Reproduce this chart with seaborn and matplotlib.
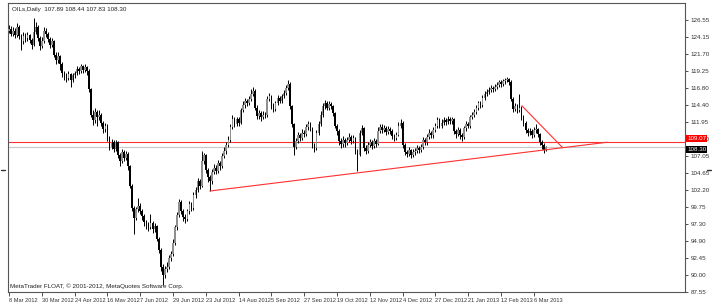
import numpy as np
import pandas as pd
import matplotlib
matplotlib.use("Agg")
import matplotlib.pyplot as plt
import matplotlib.transforms as mtransforms
import seaborn as sns

# ---------------- data ----------------
closes = [125.3,124.6,125.0,124.4,125.6,124.2,123.5,124.3,123.9,124.4,
          123.7,123.0,124.8,125.6,124.0,122.8,123.6,125.0,124.6,123.8,
          123.0,123.5,121.6,120.8,121.4,120.2,119.0,118.6,118.2,118.8,
          118.0,118.6,118.9,119.5,119.2,119.9,119.4,119.8,119.3,116.6,
          113.0,112.2,113.4,112.6,113.0,111.8,110.9,111.4,109.6,108.4,
          109.0,108.1,109.0,107.2,106.4,107.6,106.8,107.4,105.6,102.8,
          99.6,98.2,99.4,99.9,99.2,98.4,97.6,97.2,96.9,97.5,
          96.6,97.0,95.2,93.6,91.2,90.0,90.8,91.2,92.4,93.0,
          94.6,96.8,98.6,100.4,99.2,98.3,98.0,99.1,100.2,99.6,
          101.4,102.2,103.4,102.8,106.4,107.2,105.0,104.0,103.4,104.8,
          105.4,104.9,106.0,105.6,107.0,107.8,108.6,109.4,111.2,112.4,
          111.6,112.3,111.8,113.6,114.4,114.9,114.6,115.2,116.0,116.4,
          114.0,112.8,113.2,112.6,113.0,112.9,115.2,115.6,114.2,113.8,
          114.6,115.4,115.0,115.6,116.1,116.8,117.4,114.2,111.6,108.4,
          109.2,110.0,109.6,110.4,110.2,111.2,111.6,111.0,108.6,108.2,
          110.4,111.6,113.0,114.2,114.6,114.0,114.5,114.2,113.2,111.4,
          110.6,109.2,108.8,109.4,108.9,109.3,109.8,109.2,109.6,107.8,
          107.2,110.4,111.0,108.2,107.8,108.6,109.0,108.5,109.2,108.8,
          110.6,111.2,110.8,111.0,110.5,110.9,110.6,109.9,109.6,110.1,
          111.4,111.8,108.6,107.6,107.4,107.9,107.2,107.6,107.8,108.2,
          107.9,108.4,109.4,109.0,109.8,110.4,110.0,110.8,111.4,112.2,
          111.4,111.8,112.2,111.9,112.4,112.0,112.3,110.6,110.2,110.8,
          110.0,109.8,111.0,111.6,111.4,112.6,113.0,113.4,114.0,114.6,
          114.4,115.4,115.9,116.2,116.5,116.8,116.6,117.0,117.3,117.6,
          117.4,117.8,117.9,118.1,117.7,115.2,113.8,114.2,113.6,114.0,
          112.6,111.8,110.8,110.3,110.6,110.1,110.8,110.9,110.2,109.0,
          108.6,107.89,108.30]
highs = [125.9,125.7,125.5,125.4,126.1,125.9,124.6,124.8,124.7,124.9,
         124.6,123.9,126.8,126.2,125.8,124.3,124.1,125.6,125.4,124.9,
         124.1,124.0,123.7,121.9,121.9,121.6,120.5,119.3,118.9,119.2,
         119.0,118.9,119.3,119.9,119.8,120.2,120.1,120.2,120.0,119.5,
         116.8,113.6,113.9,113.7,113.6,113.2,112.1,111.8,111.6,109.9,
         109.5,109.3,109.4,109.2,107.5,108.0,107.9,107.8,107.6,105.8,
         103.0,99.9,99.8,101.1,100.3,99.5,98.7,97.9,97.6,98.8,
         97.7,97.4,97.2,95.5,93.8,91.5,91.3,91.8,92.8,93.5,
         95.1,97.2,99.0,100.9,100.7,99.5,98.7,99.5,100.6,100.5,
         101.9,102.6,103.9,103.7,107.8,107.5,107.4,105.3,104.3,105.2,
         105.9,105.7,106.5,106.4,107.5,108.3,109.1,109.9,111.6,112.9,
         112.7,112.7,112.6,114.0,114.9,115.3,115.2,115.6,116.6,116.9,
         116.6,114.3,113.7,113.5,113.5,113.4,115.6,116.1,115.8,114.6,
         115.0,115.8,115.7,116.0,116.5,117.3,117.9,117.6,114.4,111.8,
         109.7,110.5,110.4,110.9,110.8,111.7,112.1,111.9,111.2,108.9,
         110.8,112.0,113.5,114.7,115.1,114.9,114.9,114.8,114.4,113.4,
         111.7,110.9,109.6,109.9,109.7,109.8,110.3,110.1,110.0,109.8,
         108.1,110.8,111.5,111.2,108.6,109.0,109.5,109.3,109.6,109.5,
         111.2,111.7,111.6,111.5,111.3,111.3,111.2,110.9,110.2,110.5,
         111.9,112.4,112.0,108.9,107.9,108.3,108.1,108.0,108.2,108.6,
         108.5,108.8,109.8,109.7,110.2,110.9,110.7,111.2,111.8,112.6,
         112.5,112.3,112.6,112.5,112.8,112.7,112.7,112.5,110.9,111.2,
         111.0,110.3,111.4,112.0,111.9,113.0,113.4,113.8,114.4,115.0,
         114.9,115.8,116.3,116.6,116.9,117.2,117.1,117.4,117.7,118.0,
         117.9,118.1,118.2,118.4,118.3,117.9,115.5,114.6,114.5,115.9,
         114.2,112.9,112.1,111.1,111.0,110.9,111.2,111.6,111.1,110.4,
         109.3,108.9,108.44]
lows = [124.7,124.2,124.3,123.9,124.1,123.8,122.3,123.1,123.4,123.6,
        123.3,122.4,122.8,124.5,123.6,122.2,122.5,123.3,124.1,123.4,
        122.6,122.7,121.2,120.2,120.4,119.4,118.4,118.0,117.6,117.9,
        117.0,117.7,118.3,118.6,118.8,118.9,119.0,119.1,118.6,116.2,
        112.6,111.5,111.8,111.3,112.2,111.3,110.4,110.5,109.2,107.9,
        108.0,107.6,107.8,106.8,105.6,106.1,106.3,106.5,105.1,102.4,
        99.2,95.8,97.9,99.0,98.8,97.9,97.0,96.6,96.3,96.6,
        96.0,96.1,94.8,93.1,90.6,88.6,89.6,90.4,90.9,92.0,
        92.7,94.3,96.5,98.3,98.8,97.8,97.5,97.7,98.8,99.2,
        99.3,101.0,101.9,102.3,102.6,105.9,104.6,103.3,102.1,103.1,
        104.5,104.4,104.6,105.1,105.3,106.7,107.4,108.3,109.1,110.9,
        111.2,111.3,111.4,111.6,113.3,114.0,114.2,114.3,114.9,115.6,
        113.6,112.3,112.4,112.1,112.3,112.5,112.7,114.9,113.8,113.3,
        113.5,114.3,114.6,114.7,115.3,115.8,116.5,113.8,111.2,107.2,
        108.0,108.9,109.2,109.3,109.8,109.9,110.8,110.6,108.2,107.6,
        107.9,110.1,111.3,112.7,113.8,113.6,113.7,113.8,112.8,111.0,
        110.1,108.7,108.2,108.4,108.4,108.6,109.0,108.8,108.9,107.3,
        104.9,107.0,110.0,107.8,107.3,107.5,108.3,108.1,108.2,108.4,
        108.6,110.3,110.4,110.5,110.1,110.2,110.2,109.5,109.2,109.3,
        109.9,111.1,108.2,107.2,106.9,107.0,106.8,106.9,107.2,107.5,
        107.5,107.6,108.1,108.6,108.7,109.5,109.6,109.7,110.5,111.1,
        111.0,111.1,111.5,111.5,111.6,111.6,111.7,110.2,109.6,109.9,
        109.5,109.2,109.5,110.7,111.0,111.1,112.3,112.7,113.1,113.7,
        114.0,114.1,115.1,115.6,115.9,116.2,116.2,116.3,116.7,117.0,
        117.0,117.1,117.4,117.6,117.3,114.9,113.4,113.5,113.2,113.3,
        112.2,111.4,110.4,109.9,110.0,109.7,109.8,110.4,109.8,108.6,
        108.1,107.5,107.83]
first_open = 125.0

date_labels = ["8 Mar 2012", "30 Mar 2012", "24 Apr 2012", "16 May 2012",
               "7 Jun 2012", "29 Jun 2012", "23 Jul 2012", "14 Aug 2012",
               "5 Sep 2012", "27 Sep 2012", "19 Oct 2012", "12 Nov 2012",
               "4 Dec 2012", "27 Dec 2012", "21 Jan 2013", "12 Feb 2013",
               "6 Mar 2013"]
price_ticks = [126.55, 124.15, 121.70, 119.25, 116.80, 114.40, 111.95, 109.50,
               107.05, 104.65, 102.20, 99.75, 97.30, 94.90, 92.45, 90.00, 87.55]

level_line = 109.07       # horizontal red line
bid_price = 108.30        # current price line
trend_up_x = [98.0, 291.7]
trend_up_y = [102.03, 109.02]
trend_down_x = [250.2, 270.1]
trend_down_y = [114.26, 108.24]
title_text = "OILs,Daily  107.89 108.44 107.83 108.30"
footer_text = "MetaTrader FLOAT, \u00a9 2001-2012, MetaQuotes Software Corp."

# ---------------- frame ----------------
n = len(closes)
idx = np.arange(n)
opens = [first_open] + closes[:-1]
df = pd.DataFrame({"i": idx, "open": opens, "high": highs, "low": lows, "close": closes})
df["high"] = df[["high", "open", "close"]].max(axis=1)
df["low"] = df[["low", "open", "close"]].min(axis=1)
df["bull"] = df["close"] >= df["open"]

sns.set_theme(style="white")
plt.rcParams["font.family"] = ["Liberation Sans", "DejaVu Sans"]

FS = 4.5
W, H = 712, 302
fig = plt.figure(figsize=(W / 100, H / 100), dpi=100)
ax = fig.add_axes([8 / W, 10 / H, 677 / W, 289 / H])

# horizontal lines
ax.axhline(bid_price, color="#c8c8c8", lw=0.8, zorder=1)
ax.axhline(level_line, color="#ff3030", lw=0.8, zorder=1)

# candles
ax.vlines(df["i"], df["low"], df["high"], color="black", lw=0.7, zorder=2)
body_bot = df[["open", "close"]].min(axis=1)
body_h = (df["close"] - df["open"]).abs().clip(lower=0.08)
colors = np.where(df["bull"], "#8f8f8f", "#000000")
ax.bar(df["i"], body_h, bottom=body_bot, width=0.8, color=colors,
       edgecolor="none", linewidth=0, zorder=3)

# trend lines via seaborn
tl = pd.DataFrame({"x": trend_up_x, "y": trend_up_y})
sns.lineplot(data=tl, x="x", y="y", ax=ax, color="#ff3030", lw=0.8, zorder=4)
td = pd.DataFrame({"x": trend_down_x, "y": trend_down_y})
sns.lineplot(data=td, x="x", y="y", ax=ax, color="#ff3030", lw=0.8, zorder=4)

ax.set_xlim(-0.5, 329.8)
ax.set_ylim(87.55, 128.99)
ax.set_xlabel("")
ax.set_ylabel("")

# axes styling
for s in ax.spines.values():
    s.set_color("#555555")
    s.set_linewidth(0.8)

ax.yaxis.tick_right()
ax.set_yticks(price_ticks)
ax.set_yticklabels([f"{v:.2f}" for v in price_ticks])
ax.tick_params(axis="y", which="both", right=True, left=False, direction="out",
               length=2, width=0.6, pad=2, labelsize=FS, colors="#333333")

ax.set_xticks(np.arange(len(date_labels)) * 16)
ax.set_xticklabels(date_labels)
ax.tick_params(axis="x", which="both", bottom=True, direction="out",
               length=3, width=0.6, pad=1, labelsize=4.1, colors="#333333")
for lab in ax.get_xticklabels():
    lab.set_ha("left")

# texts
ax.text(0.006, 0.985, title_text, transform=ax.transAxes, fontsize=FS,
        va="top", ha="left", color="#222222")
ax.text(0.003, 0.012, footer_text, transform=ax.transAxes, fontsize=FS,
        va="bottom", ha="left", color="#222222")

# price labels on right
trans = mtransforms.blended_transform_factory(ax.transAxes, ax.transData)
ax.text(1.003, level_line + 0.45, f"{level_line:.2f}", transform=trans, fontsize=FS,
        va="center", ha="left", color="white",
        bbox=dict(boxstyle="square,pad=0.15", fc="#ff0000", ec="none"), zorder=6,
        clip_on=False)
ax.text(1.003, bid_price - 0.3, f"{bid_price:.2f}", transform=trans, fontsize=FS,
        va="center", ha="left", color="white",
        bbox=dict(boxstyle="square,pad=0.15", fc="#000000", ec="none"), zorder=6,
        clip_on=False)

# small shift markers
ax.plot([-0.011, -0.004], [105.04, 105.04], transform=trans, color="#333333",
        lw=1.0, clip_on=False)
ax.plot([1.032, 1.039], [105.04, 105.04], transform=trans, color="#333333",
        lw=1.0, clip_on=False)

fig.savefig("out.png", dpi=100)
